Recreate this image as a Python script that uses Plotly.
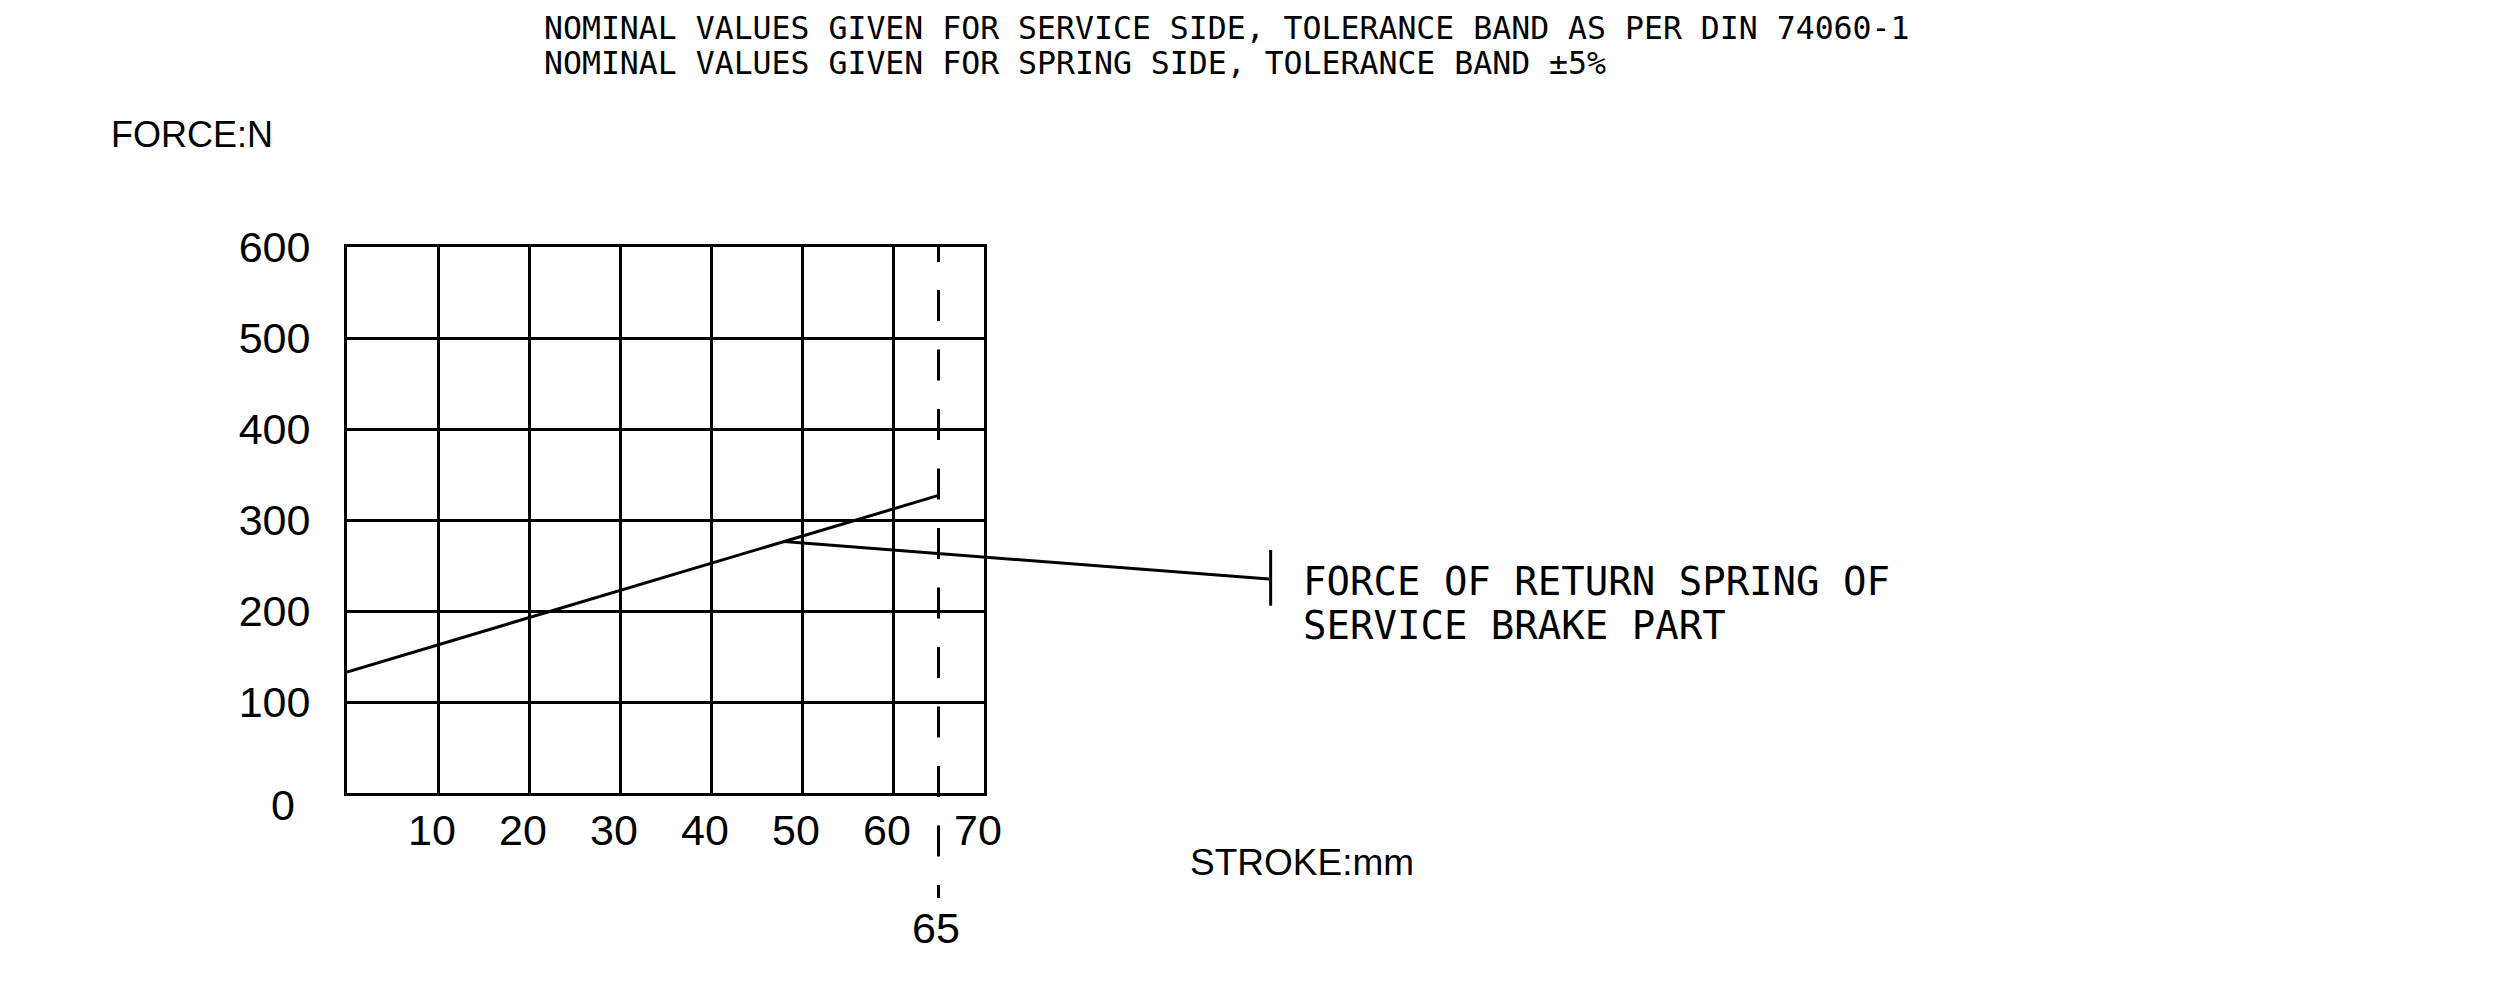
import plotly.graph_objects as go
import numpy as np

# ---- data ----
STROKE_MM = [0, 65]            # stroke (mm)
FORCE_N = [133, 327]           # force of return spring (N)
X_TICKS = [10, 20, 30, 40, 50, 60, 70]
Y_TICKS = [100, 200, 300, 400, 500, 600]
X_RANGE = [0, 70]
Y_RANGE = [0, 600]
STROKE_LIMIT = 65              # dashed limit line
LEADER_ON_CURVE = 48           # stroke where the leader touches the curve
LEADER_END = [101.5, 235]      # leader end (stroke, force)
LEADER_BAR = [267, 204]        # vertical extent of the end bar (force)

TITLE_1 = "NOMINAL VALUES GIVEN FOR SERVICE SIDE, TOLERANCE BAND AS PER DIN 74060-1"
TITLE_2 = "NOMINAL VALUES GIVEN FOR SPRING SIDE, TOLERANCE BAND \u00b15%"
Y_TITLE = "FORCE:N"
X_TITLE = "STROKE:mm"
LABEL_1 = "FORCE OF RETURN SPRING OF"
LABEL_2 = "SERVICE BRAKE PART"

# ---- layout (page pixels; the page body adds an 8 px offset) ----
W, H = 2517, 985
BODY = 8
PLOT_L, PLOT_T, PLOT_W, PLOT_H = 346.5, 247, 638, 546
ML = PLOT_L - BODY
MT = PLOT_T - BODY
MR = W - ML - PLOT_W
MB = H - MT - PLOT_H


def px_x(page_x):
    return (page_x - PLOT_L) / PLOT_W


def px_y(page_y):
    return (PLOT_T + PLOT_H - page_y) / PLOT_H


def data_to_paper_x(v):
    return (v - X_RANGE[0]) / (X_RANGE[1] - X_RANGE[0])


tick_font = dict(family="Liberation Sans, Arial, sans-serif", size=43, color="black")
mono = "DejaVu Sans Mono, Liberation Mono, monospace"
sans = "Liberation Sans, Arial, sans-serif"

fig = go.Figure()
fig.add_trace(go.Scatter(x=STROKE_MM, y=FORCE_N, mode="lines",
                         line=dict(color="black", width=3),
                         showlegend=False, hoverinfo="skip"))

fig.update_layout(
    width=W, height=H,
    margin=dict(l=ML, r=MR, t=MT, b=MB, pad=0),
    paper_bgcolor="white", plot_bgcolor="white",
    showlegend=False,
    xaxis=dict(range=X_RANGE, tickvals=X_TICKS, ticktext=[str(v) for v in X_TICKS],
               showgrid=True, gridcolor="black", gridwidth=3,
               showline=True, linecolor="black", linewidth=3, mirror=True,
               zeroline=False, ticks="", tickfont=tick_font,
               ticklabelstandoff=-3, ticklabelshift=-6, fixedrange=True),
    yaxis=dict(range=Y_RANGE, tickvals=Y_TICKS, ticktext=[str(v) for v in Y_TICKS],
               showgrid=True, gridcolor="black", gridwidth=3,
               showline=True, linecolor="black", linewidth=3, mirror=True,
               zeroline=False, ticks="", tickfont=tick_font,
               ticklabelstandoff=25, fixedrange=True),
)

# dashed limit line at 65 mm, running below the axis to its label
fig.add_shape(type="line", xref="x", yref="paper",
              x0=STROKE_LIMIT, x1=STROKE_LIMIT, y0=1, y1=px_y(262),
              line=dict(color="black", width=3))
fig.add_shape(type="line", xref="x", yref="paper",
              x0=STROKE_LIMIT, x1=STROKE_LIMIT, y0=px_y(290), y1=px_y(898),
              line=dict(color="black", width=3, dash="31px,28.5px"))

ann = []
# 65 label under the dashed line
ann.append(dict(x=STROKE_LIMIT, y=px_y(928), xref="x", yref="paper", text=str(STROKE_LIMIT),
                showarrow=False, xanchor="center", yanchor="middle", xshift=-3,
                font=tick_font))
# 0 label of the force axis
ann.append(dict(x=px_x(282), y=px_y(805), xref="paper", yref="paper", text="0",
                showarrow=False, xanchor="center", yanchor="middle",
                font=tick_font))
# leader line from curve to label
y_on_curve = float(np.interp(LEADER_ON_CURVE, STROKE_MM, FORCE_N))
ann.append(dict(x=LEADER_ON_CURVE, y=y_on_curve, xref="x", yref="y",
                ax=LEADER_END[0], ay=LEADER_END[1], axref="x", ayref="y",
                text="", showarrow=True, arrowhead=0, arrowwidth=3, arrowcolor="black",
                standoff=0, font=dict(size=1)))
# end bar of the leader
bar_px = (LEADER_BAR[0] - LEADER_BAR[1]) * PLOT_H / (Y_RANGE[1] - Y_RANGE[0])
ann.append(dict(x=data_to_paper_x(LEADER_END[0]), y=LEADER_BAR[0], xref="paper", yref="y",
                ax=0, ay=bar_px, axref="pixel", ayref="pixel",
                text="", showarrow=True, arrowhead=0, arrowwidth=3, arrowcolor="black",
                standoff=0, font=dict(size=1)))
# curve label
for txt, cy in [(LABEL_1, 581.5), (LABEL_2, 625)]:
    ann.append(dict(x=px_x(1302), y=px_y(cy), xref="paper", yref="paper",
                    text=txt, showarrow=False, xanchor="left", yanchor="middle",
                    font=dict(family=mono, size=39, color="black")))
# titles
for txt, cy in [(TITLE_1, 27.5), (TITLE_2, 63)]:
    ann.append(dict(x=px_x(542), y=px_y(cy), xref="paper", yref="paper", text=txt,
                    showarrow=False, xanchor="left", yanchor="middle",
                    font=dict(family=mono, size=31.5, color="black")))
# axis titles
ann.append(dict(x=px_x(108), y=px_y(134.5), xref="paper", yref="paper", text=Y_TITLE,
                showarrow=False, xanchor="left", yanchor="middle",
                font=dict(family=sans, size=36, color="black")))
ann.append(dict(x=px_x(1189), y=px_y(862), xref="paper", yref="paper", text=X_TITLE,
                showarrow=False, xanchor="left", yanchor="middle",
                font=dict(family=sans, size=37, color="black")))
fig.update_layout(annotations=ann)

fig.write_html("out.html")
